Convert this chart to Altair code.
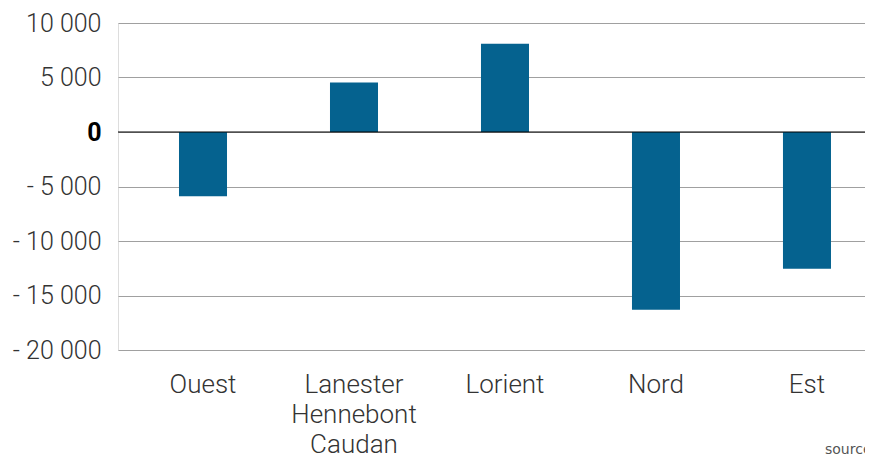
import altair as alt
import pandas as pd

categories = ["Ouest", "Lanester|Hennebont|Caudan", "Lorient", "Nord", "Est"]
values = [-5900, 4550, 8100, -16300, -12550]
y_ticks = [-20000, -15000, -10000, -5000, 0, 5000, 10000]

df = pd.DataFrame({"secteur": categories, "solde": values})

FONT = "Roboto"
label_expr_y = "(datum.value < 0 ? '- ' : '') + replace(format(abs(datum.value), ','), ',', ' ')"

bars = alt.Chart(df).mark_bar(color="#05628F").encode(
    x=alt.X(
        "secteur:N",
        sort=None,
        title=None,
        scale=alt.Scale(paddingInner=0.682, paddingOuter=0.3146, align=0.642),
        axis=alt.Axis(
            labelAngle=0,
            labelExpr="split(datum.label, '|')",
            labelFont=FONT,
            labelFontSize=26,
            labelFontWeight=300,
            labelColor="#333333",
            labelLineHeight=30,
            labelPadding=21,
            domain=False,
            ticks=False,
            grid=False,
        ),
    ),
    y=alt.Y(
        "solde:Q",
        title=None,
        scale=alt.Scale(domain=[-20000, 10000], nice=False),
        axis=alt.Axis(
            values=y_ticks,
            labelExpr=label_expr_y,
            labelFont=FONT,
            labelFontSize=25,
            labelColor={"condition": {"test": "datum.value === 0", "value": "#000000"}, "value": "#333333"},
            labelFontWeight={"condition": {"test": "datum.value === 0", "value": "bold"}, "value": 300},
            labelPadding=17,
            domain=False,
            ticks=False,
            grid=True,
            gridColor="#a0a0a0",
            gridWidth=1.2,
        ),
    ),
)

zero = alt.Chart(pd.DataFrame({"v": [0]})).mark_rule(color="#000000", strokeWidth=1.2).encode(
    y="v:Q"
)

source = alt.Chart(pd.DataFrame({"t": ["source : Insee"]})).mark_text(
    align="left", baseline="middle", font="DejaVu Sans", fontSize=14, color="#555555"
).encode(text="t:N", x=alt.value(707), y=alt.value(427))

chart = (
    alt.layer(bars, zero, source)
    .properties(
        width=747,
        height=327,
        autosize=alt.AutoSizeParams(type="none"),
        padding={"left": 110, "top": 15, "right": 0, "bottom": 107},
    )
    .configure_view(stroke=None)
    .configure(background="white")
)

chart.save("out.html", embed_options={"renderer": "svg", "actions": False})
